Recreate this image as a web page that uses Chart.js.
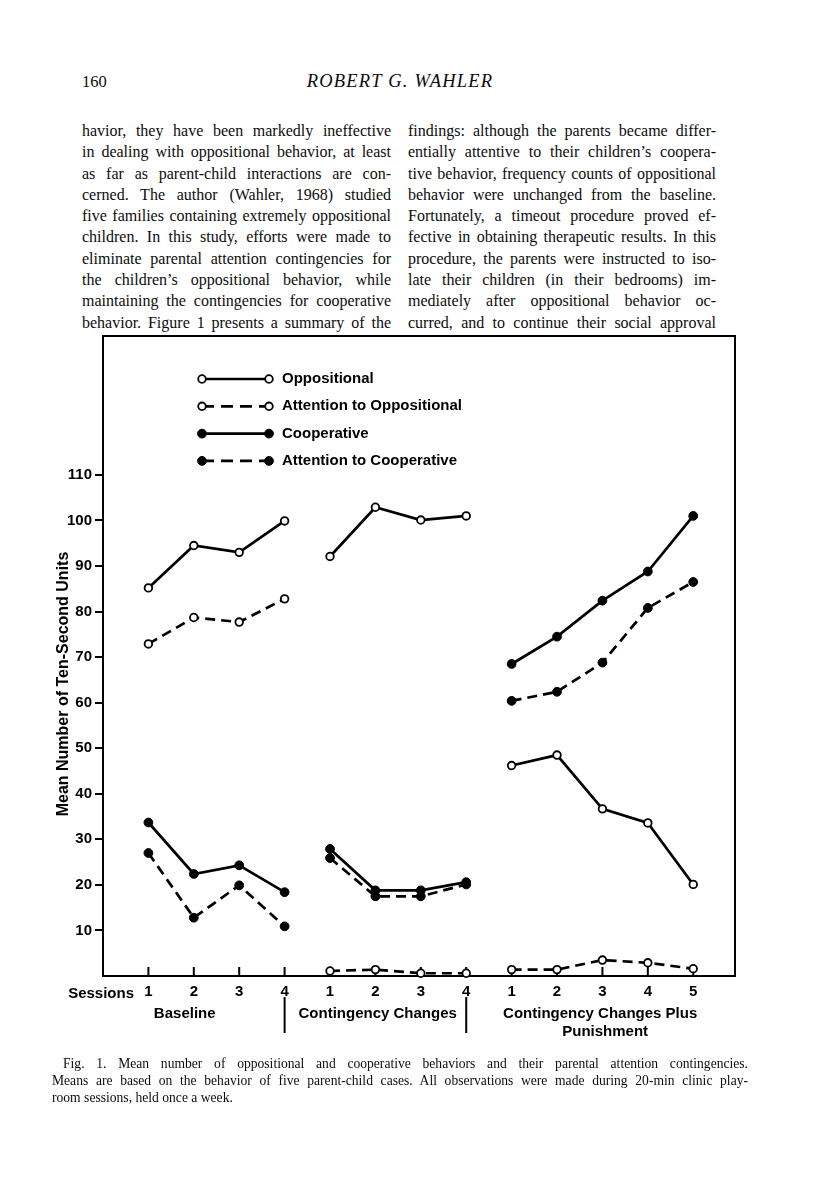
<!DOCTYPE html>
<html><head><meta charset="utf-8">
<script src="https://cdn.jsdelivr.net/npm/chart.js@4.4.1/dist/chart.umd.min.js"></script>
<style>
body{margin:0;background:#fff;}
#page{position:relative;width:816px;height:1191px;overflow:hidden;font-family:"Liberation Serif","Times New Roman",serif;color:#0c0c0c;background:#fff;}
.abs{position:absolute;white-space:nowrap;}
.col{position:absolute;width:309px;font-size:16px;line-height:21.3px;}
.jl{display:block;white-space:nowrap;height:21.3px;}
.cap{position:absolute;font-size:13.6px;line-height:17px;}
.cap .jl{height:17px;}
#chartbox{position:absolute;left:0;top:320px;width:816px;height:740px;}
</style>
</head><body>
<div id="page">
  <div class="abs" style="left:82px;top:72px;font-size:16.5px;">160</div>
  <div class="abs" style="left:400px;top:71px;font-size:18.5px;font-style:italic;letter-spacing:1.2px;transform:translateX(-50%);">ROBERT G. WAHLER</div>

  <div class="col" style="left:82px;top:120px;">
    <span class="jl" data-w="309">havior, they have been markedly ineffective</span>
    <span class="jl" data-w="309">in dealing with oppositional behavior, at least</span>
    <span class="jl" data-w="309">as far as parent-child interactions are con-</span>
    <span class="jl" data-w="309">cerned. The author (Wahler, 1968) studied</span>
    <span class="jl" data-w="309">five families containing extremely oppositional</span>
    <span class="jl" data-w="309">children. In this study, efforts were made to</span>
    <span class="jl" data-w="309">eliminate parental attention contingencies for</span>
    <span class="jl" data-w="309">the children’s oppositional behavior, while</span>
    <span class="jl" data-w="309">maintaining the contingencies for cooperative</span>
    <span class="jl" data-w="309">behavior. Figure 1 presents a summary of the</span>
  </div>
  <div class="col" style="left:408px;top:120px;">
    <span class="jl" data-w="308">findings: although the parents became differ-</span>
    <span class="jl" data-w="308">entially attentive to their children’s coopera-</span>
    <span class="jl" data-w="308">tive behavior, frequency counts of oppositional</span>
    <span class="jl" data-w="308">behavior were unchanged from the baseline.</span>
    <span class="jl" data-w="308">Fortunately, a timeout procedure proved ef-</span>
    <span class="jl" data-w="308">fective in obtaining therapeutic results. In this</span>
    <span class="jl" data-w="308">procedure, the parents were instructed to iso-</span>
    <span class="jl" data-w="308">late their children (in their bedrooms) im-</span>
    <span class="jl" data-w="308">mediately after oppositional behavior oc-</span>
    <span class="jl" data-w="308">curred, and to continue their social approval</span>
  </div>

  <div id="chartbox"><canvas id="c" width="816" height="740"></canvas></div>

  <div class="cap" style="left:52px;top:1055px;width:696px;">
    <span class="jl" data-w="685" style="margin-left:11px;">Fig. 1. Mean number of oppositional and cooperative behaviors and their parental attention contingencies.</span>
    <span class="jl" data-w="696">Means are based on the behavior of five parent-child cases. All observations were made during 20-min clinic play-</span>
    <span class="jl">room sessions, held once a week.</span>
  </div>
</div>

<script>
// ---------- data ----------
const sessionLabels = ['1','2','3','4','1','2','3','4','1','2','3','4','5'];
const sessionPositions = [1,2,3,4,5,6,7,8,9,10,11,12,13];
const phaseEnds = [4, 8];               // last session position of each phase (line breaks / separators)
const yTickValues = [10,20,30,40,50,60,70,80,90,100,110];

const oppositional      = [85.2, 94.5, 93.0, 99.9,  92.1, 102.9, 100.1, 101.0,  46.2, 48.5, 36.7, 33.6, 20.1];
const attnOppositional  = [72.9, 78.7, 77.7, 82.8,  1.1, 1.4, 0.6, 0.6,  1.4, 1.4, 3.5, 2.9, 1.6];
const cooperative       = [33.7, 22.4, 24.3, 18.4,  27.9, 18.8, 18.8, 20.6,  68.5, 74.5, 82.4, 88.8, 101.0];
const attnCooperative   = [27.0, 12.8, 19.9, 10.9,  25.9, 17.5, 17.5, 20.1,  60.4, 62.4, 68.8, 80.8, 86.5];

const seriesNames = ['Oppositional', 'Attention to Oppositional', 'Cooperative', 'Attention to Cooperative'];
const groupNames = [['Baseline'], ['Contingency Changes'], ['Contingency Changes Plus', 'Punishment']];
const groupCenters = [1.8, 6.05, 10.95];
const yTitle = 'Mean Number of Ten-Second Units';
const xTitle = 'Sessions';

// ---------- justify text lines ----------
document.querySelectorAll('.jl[data-w]').forEach(el => {
  const target = parseFloat(el.dataset.w);
  el.style.display = 'inline-block';
  const w = el.getBoundingClientRect().width;
  const spaces = (el.textContent.match(/ /g) || []).length;
  if (spaces > 0) el.style.wordSpacing = ((target - w) / spaces) + 'px';
  el.style.display = 'block';
});

// ---------- build series ----------
function toPoints(values) {
  const pts = [];
  values.forEach((v, i) => {
    pts.push({x: sessionPositions[i], y: v});
    if (phaseEnds.includes(sessionPositions[i])) pts.push({x: sessionPositions[i] + 0.5, y: null});
  });
  return pts;
}
const FONT = '"Liberation Sans", Arial, sans-serif';
function ds(label, values, filled, dashed) {
  return {
    label, data: toPoints(values),
    borderColor: '#000', borderWidth: 2.7,
    borderDash: dashed ? [10, 6] : [],
    pointRadius: filled ? 4.4 : 3.8,
    pointBorderWidth: filled ? 1 : 1.8,
    pointBackgroundColor: filled ? '#000' : '#fff',
    pointBorderColor: '#000',
    pointHoverRadius: 0,
    tension: 0, spanGaps: false, clip: false,
    _filled: filled, _dashed: dashed
  };
}

const decor = {
  id: 'decor',
  beforeDatasetsDraw(chart) {
    const {ctx, chartArea: a} = chart;
    ctx.save();
    ctx.strokeStyle = '#000';
    ctx.lineWidth = 2;
    ctx.strokeRect(a.left, a.top, a.right - a.left, a.bottom - a.top);
    // inward session ticks
    const xs = chart.scales.x;
    ctx.lineWidth = 2;
    sessionPositions.forEach(p => {
      const x = xs.getPixelForValue(p);
      ctx.beginPath(); ctx.moveTo(x, a.bottom); ctx.lineTo(x, a.bottom - 9); ctx.stroke();
    });
    ctx.restore();
  },
  afterDraw(chart) {
    const {ctx, chartArea: a} = chart;
    const xs = chart.scales.x;
    ctx.save();
    ctx.fillStyle = '#000';
    ctx.strokeStyle = '#000';
    // phase separators
    ctx.lineWidth = 2;
    phaseEnds.forEach(p => {
      const x = xs.getPixelForValue(p);
      ctx.beginPath(); ctx.moveTo(x, a.bottom + 21); ctx.lineTo(x, a.bottom + 57); ctx.stroke();
    });
    // Sessions label
    ctx.font = 'bold 15px ' + FONT;
    ctx.textBaseline = 'middle';
    ctx.textAlign = 'right';
    ctx.fillText(xTitle, a.left + 31, a.bottom + 18);
    // group labels
    ctx.textAlign = 'center';
    groupNames.forEach((lines, gi) => {
      const x = xs.getPixelForValue(groupCenters[gi]);
      lines.forEach((t, li) => {
        const xx = li === 0 ? x : x + 5;
        ctx.fillText(t, xx, a.bottom + 38 + li * 18);
      });
    });
    // y title
    ctx.save();
    ctx.font = 'bold 16px ' + FONT;
    ctx.translate(a.left - 39, a.top + 348);
    ctx.rotate(-Math.PI / 2);
    ctx.textAlign = 'center';
    ctx.textBaseline = 'middle';
    ctx.fillText(yTitle, 0, 0);
    ctx.restore();
    // legend
    const x0 = a.left + 99, x1 = a.left + 166, tx = a.left + 179;
    chart.data.datasets.forEach((d, i) => {
      const y = a.top + 43 + i * 27.3;
      ctx.lineWidth = 2.7;
      ctx.setLineDash(d._dashed ? [12, 7] : []);
      ctx.beginPath(); ctx.moveTo(x0, y); ctx.lineTo(x1, y); ctx.stroke();
      ctx.setLineDash([]);
      [x0, x1].forEach(px => {
        ctx.beginPath();
        ctx.arc(px, y, d._filled ? 4.4 : 3.8, 0, Math.PI * 2);
        ctx.fillStyle = d._filled ? '#000' : '#fff';
        ctx.fill();
        ctx.lineWidth = d._filled ? 1 : 1.8;
        ctx.stroke();
      });
      ctx.fillStyle = '#000';
      ctx.font = 'bold 15px ' + FONT;
      ctx.textAlign = 'left';
      ctx.textBaseline = 'middle';
      ctx.fillText(d.label, tx, y);
    });
    ctx.restore();
  }
};

new Chart(document.getElementById('c'), {
  type: 'line',
  data: {
    datasets: [
      ds(seriesNames[0], oppositional, false, false),
      ds(seriesNames[1], attnOppositional, false, true),
      ds(seriesNames[2], cooperative, true, false),
      ds(seriesNames[3], attnCooperative, true, true)
    ]
  },
  options: {
    responsive: false, animation: false, devicePixelRatio: 1,
    layout: {padding: {top: 16, right: 81, left: 0, bottom: 0}},
    plugins: {legend: {display: false}, tooltip: {enabled: false}},
    events: [],
    scales: {
      x: {
        type: 'linear', min: 0, max: 13.92,
        border: {display: false},
        grid: {display: true, drawOnChartArea: false, drawTicks: false},
        afterBuildTicks: s => { s.ticks = sessionPositions.map(v => ({value: v})); },
        afterFit: s => { s.height = 84; },
        ticks: {
          color: '#000', padding: 7, maxRotation: 0, autoSkip: false,
          font: {family: FONT, size: 15, weight: 'bold'},
          callback: (v, i) => sessionLabels[i]
        }
      },
      y: {
        type: 'linear', min: 0, max: 140.5,
        border: {display: false},
        grid: {display: true, drawOnChartArea: false, drawTicks: true, tickLength: 8, color: '#000', lineWidth: 2},
        afterBuildTicks: s => { s.ticks = yTickValues.map(v => ({value: v})); },
        afterFit: s => { s.width = 103; },
        ticks: {
          color: '#000', padding: 3,
          font: {family: FONT, size: 15, weight: 'bold'},
          callback: v => String(v)
        }
      }
    }
  },
  plugins: [decor]
});
</script>
</body></html>
